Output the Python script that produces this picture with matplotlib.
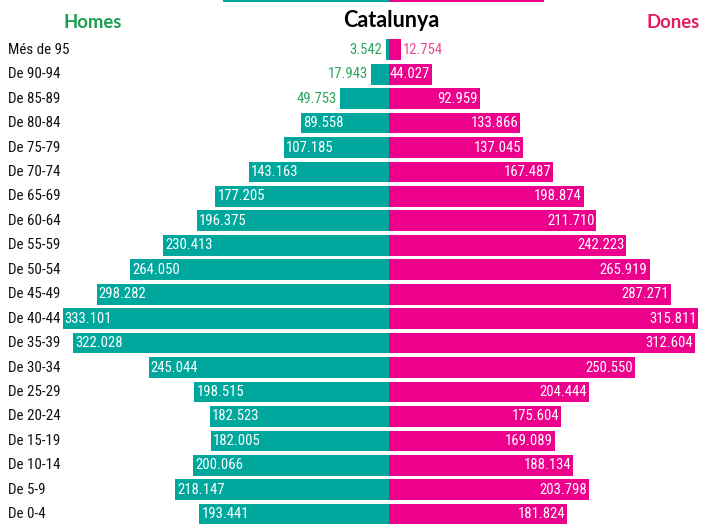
import matplotlib
matplotlib.use("Agg")
import matplotlib.pyplot as plt
from matplotlib import font_manager as fm

# ---------------- data ----------------
categories = ["Més de 95", "De 90-94", "De 85-89", "De 80-84", "De 75-79",
              "De 70-74", "De 65-69", "De 60-64", "De 55-59", "De 50-54",
              "De 45-49", "De 40-44", "De 35-39", "De 30-34", "De 25-29",
              "De 20-24", "De 15-19", "De 10-14", "De 5-9", "De 0-4"]
homes = [3542, 17943, 49753, 89558, 107185, 143163, 177205, 196375, 230413,
         264050, 298282, 333101, 322028, 245044, 198515, 182523, 182005,
         200066, 218147, 193441]
dones = [12754, 44027, 92959, 133866, 137045, 167487, 198874, 211710, 242223,
         265919, 287271, 315811, 312604, 250550, 204444, 175604, 169089,
         188134, 203798, 181824]
# edge of the previous panel's bar visible at the very top of the picture
prev_homes_edge = 169000
prev_dones_edge = 158000

title = "Catalunya"
left_title = "Homes"
right_title = "Dones"

# ---------------- style ----------------
TEAL = "#00a79d"
PINK = "#ec008c"
GREEN_TXT = "#1a9f4f"
PINK_TXT = "#e31b62"
GREEN_LBL = "#2aa65a"
PINK_LBL = "#ef4796"

names = {f.name for f in fm.fontManager.ttflist}
cond_family = None
for cand in ["Liberation Sans Narrow", "Roboto Condensed", "Open Sans Condensed",
             "Noto Sans Condensed", "DejaVu Sans Condensed"]:
    if cand in names:
        cond_family = cand
        break
cond_kw = {}
if cond_family is None:
    has_dv_cond = any(f.name == "DejaVu Sans" and str(f.stretch) in ("condensed", "semi-condensed")
                      for f in fm.fontManager.ttflist)
    if has_dv_cond:
        cond_family = "DejaVu Sans"
        cond_kw = {"fontstretch": "condensed"}
    else:
        cond_family = "Liberation Sans"
cond = dict(family=[cond_family, "DejaVu Sans"], **cond_kw)

W, H = 702, 524
fig = plt.figure(figsize=(W / 100, H / 100), dpi=100)
ax = fig.add_axes([0, 0, 1, 1])

center_px = 389.0
scale = 0.98  # px per thousand
row0_px = 49.7
row_step = 24.45
xlim_left = -center_px / scale * 1000
xlim_right = (W - center_px) / scale * 1000
ax.set_xlim(xlim_left, xlim_right)
ax.set_ylim((H - row0_px) / row_step, -row0_px / row_step)
ax.axis("off")

ypos = list(range(len(categories)))
bh = 0.85
ax.barh(ypos, [-v for v in homes], height=bh, color=TEAL, linewidth=0)
ax.barh(ypos, dones, height=bh, color=PINK, linewidth=0)

# previous panel edge line at top
ax.barh([-2.0], [-prev_homes_edge], height=0.1, color=TEAL, linewidth=0)
ax.barh([-2.0], [prev_dones_edge], height=0.1, color=PINK, linewidth=0)

px = 1000 / scale  # data units per pixel
fs = 10.6


def fmt(v):
    return f"{v:,}".replace(",", ".")


for i, (cat, m, f) in enumerate(zip(categories, homes, dones)):
    ax.text(8 / W, i, cat, transform=ax.get_yaxis_transform(), ha="left",
            va="center", fontsize=fs + 0.2, color="#111111", **cond)
    if m > 60000:
        ax.text(-m + 2 * px, i, fmt(m), ha="left", va="center", fontsize=fs,
                color="white", **cond)
    else:
        ax.text(-m - 3 * px, i, fmt(m), ha="right", va="center", fontsize=fs,
                color=GREEN_LBL, **cond)
    if f > 30000:
        ax.text(f - 2 * px, i, fmt(f), ha="right", va="center", fontsize=fs,
                color="white", **cond)
    else:
        ax.text(f + 1 * px, i, fmt(f), ha="left", va="center", fontsize=fs,
                color=PINK_LBL, **cond)

head = dict(family=["Lato", "DejaVu Sans"], fontweight="bold")
fig.text(391 / W, 1 - 27 / H, title, ha="center", va="baseline",
         fontsize=15.5, color="black", **head)
fig.text(93 / W, 1 - 27.5 / H, left_title, ha="center", va="baseline",
         fontsize=13.3, color=GREEN_TXT, **head)
fig.text(673.5 / W, 1 - 27.5 / H, right_title, ha="center", va="baseline",
         fontsize=13.3, color=PINK_TXT, **head)

fig.savefig("out.png", dpi=100)
